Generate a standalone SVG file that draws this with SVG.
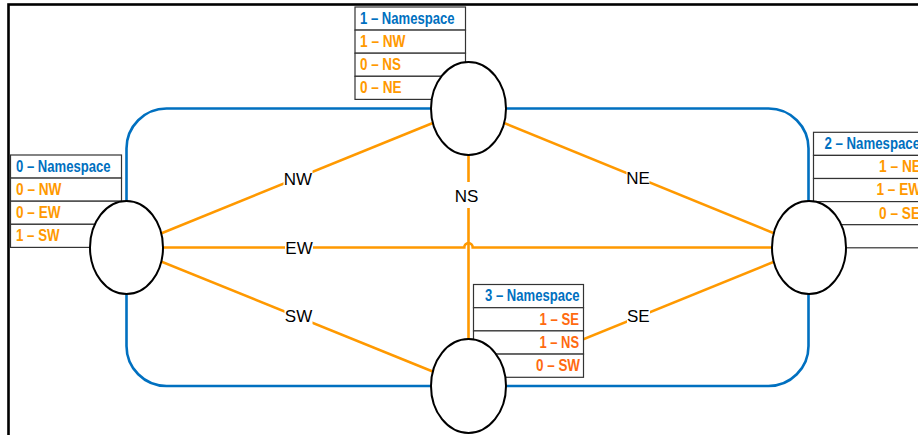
<svg xmlns="http://www.w3.org/2000/svg" width="918" height="435" viewBox="0 0 918 435">
<style>
.frame{fill:none;stroke:#000;stroke-width:2.6}
.ring{fill:none;stroke:#0070C0;stroke-width:2.6}
.link{fill:none;stroke:#FF9900;stroke-width:2.6}
.lblbg{fill:#fff;stroke:none}
.lbl{font-family:"Liberation Sans",Arial,sans-serif;font-size:17px;fill:#000;text-anchor:middle}
.node{fill:#fff;stroke:#000;stroke-width:2}
.cell{fill:#fff;stroke:#333;stroke-width:1.2}
.t{font-family:"Liberation Sans",Arial,sans-serif;font-size:16px;font-weight:bold}
.hd{fill:#0070C0}
.o{fill:#FF9900}
.o2{fill:#FF6A10}
.r{text-anchor:end}
</style>
<rect class="frame" x="8.5" y="4.5" width="1000" height="1000"/>
<rect id="ring" class="ring" x="126.5" y="108.5" width="682" height="277.5" rx="40" ry="40"/>
<g id="connectors">
<line class="link" x1="126.5" y1="247.5" x2="468.5" y2="108.5"/>
<line class="link" x1="468.5" y1="108.5" x2="809" y2="247.5"/>
<line class="link" x1="126.5" y1="247.5" x2="468.5" y2="386"/>
<line class="link" x1="468.5" y1="386" x2="809" y2="247.5"/>
<line class="link" x1="468.5" y1="108.5" x2="468.5" y2="386"/>
<path class="link" d="M126.5,247.5 H464.3 a4.2,4.4 0 0 1 8.4,0 H809"/>
<rect class="lblbg" x="283.5" y="164.5" width="29" height="26"/>
<text class="lbl" x="298" y="184.5">NW</text>
<rect class="lblbg" x="285" y="240" width="28" height="16"/>
<text class="lbl" x="299" y="254">EW</text>
<rect class="lblbg" x="284.5" y="302" width="28" height="26"/>
<text class="lbl" x="298.5" y="322">SW</text>
<rect class="lblbg" x="455" y="182" width="23" height="26"/>
<text class="lbl" x="466.5" y="202">NS</text>
<rect class="lblbg" x="626.5" y="164.5" width="23" height="26"/>
<text class="lbl" x="638" y="184">NE</text>
<rect class="lblbg" x="627" y="302" width="23" height="26"/>
<text class="lbl" x="638.3" y="322">SE</text>
</g>
<g id="node0">
<rect class="cell" x="10.5" y="155" width="111" height="23.1"/>
<rect class="cell" x="10.5" y="178.1" width="111" height="23.1"/>
<rect class="cell" x="10.5" y="201.2" width="111" height="23.1"/>
<rect class="cell" x="10.5" y="224.3" width="111" height="23.1"/>
<text class="t hd" x="16" y="171.9" textLength="94.5" lengthAdjust="spacingAndGlyphs">0 – Namespace</text>
<text class="t o" x="16" y="195.1" textLength="45.5" lengthAdjust="spacingAndGlyphs">0 – NW</text>
<text class="t o" x="16" y="218.2" textLength="44.5" lengthAdjust="spacingAndGlyphs">0 – EW</text>
<text class="t o" x="16" y="241.3" textLength="43.5" lengthAdjust="spacingAndGlyphs">1 – SW</text>
<ellipse class="node" cx="126.5" cy="247.5" rx="36.5" ry="46.5"/>
</g>
<g id="node1">
<rect class="cell" x="355" y="7" width="110.5" height="23.1"/>
<rect class="cell" x="355" y="30.1" width="110.5" height="23.1"/>
<rect class="cell" x="355" y="53.2" width="110.5" height="23.1"/>
<rect class="cell" x="355" y="76.3" width="110.5" height="23.1"/>
<text class="t hd" x="360" y="23.6" textLength="94.5" lengthAdjust="spacingAndGlyphs">1 – Namespace</text>
<text class="t o" x="360" y="46.9" textLength="45.5" lengthAdjust="spacingAndGlyphs">1 – NW</text>
<text class="t o" x="360" y="70.1" textLength="41" lengthAdjust="spacingAndGlyphs">0 – NS</text>
<text class="t o" x="360" y="93.3" textLength="41.5" lengthAdjust="spacingAndGlyphs">0 – NE</text>
<ellipse class="node" cx="468.5" cy="108.5" rx="37.5" ry="46.5"/>
</g>
<g id="node2">
<rect class="cell" x="813.5" y="132.3" width="120" height="23.1"/>
<rect class="cell" x="813.5" y="155.4" width="120" height="23.1"/>
<rect class="cell" x="813.5" y="178.5" width="120" height="23.1"/>
<rect class="cell" x="813.5" y="201.6" width="120" height="23.1"/>
<rect class="cell" x="813.5" y="224.7" width="120" height="23.1"/>
<text class="t hd r" x="920" y="149.1" textLength="95.5" lengthAdjust="spacingAndGlyphs">2 – Namespace</text>
<text class="t o r" x="921" y="172.3" textLength="42" lengthAdjust="spacingAndGlyphs">1 – NE</text>
<text class="t o r" x="921" y="195.4" textLength="44.5" lengthAdjust="spacingAndGlyphs">1 – EW</text>
<text class="t o r" x="920" y="218.5" textLength="41" lengthAdjust="spacingAndGlyphs">0 – SE</text>
<ellipse class="node" cx="809" cy="247.5" rx="37" ry="46.5"/>
</g>
<g id="node3">
<rect class="cell" x="473.5" y="284.5" width="110" height="23.2"/>
<rect class="cell" x="473.5" y="307.7" width="110" height="23.2"/>
<rect class="cell" x="473.5" y="330.9" width="110" height="23.2"/>
<rect class="cell" x="473.5" y="354.1" width="110" height="23.2"/>
<text class="t hd r" x="579.5" y="301.3" textLength="94.5" lengthAdjust="spacingAndGlyphs">3 – Namespace</text>
<text class="t o2 r" x="579" y="324.6" textLength="39.5" lengthAdjust="spacingAndGlyphs">1 – SE</text>
<text class="t o2 r" x="579" y="347.8" textLength="39.5" lengthAdjust="spacingAndGlyphs">1 – NS</text>
<text class="t o2 r" x="580" y="371" textLength="44" lengthAdjust="spacingAndGlyphs">0 – SW</text>
<ellipse class="node" cx="468.5" cy="386" rx="37.5" ry="47"/>
</g>
</svg>
